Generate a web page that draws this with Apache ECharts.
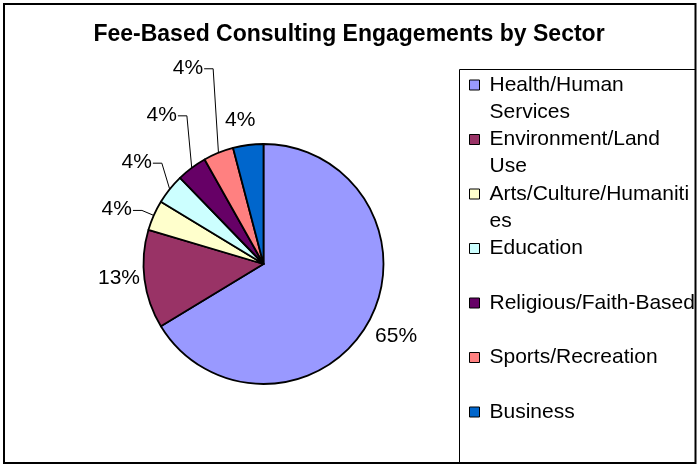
<!DOCTYPE html>
<html>
<head>
<meta charset="utf-8">
<script src="https://cdn.jsdelivr.net/npm/echarts@6/dist/echarts.min.js"></script>
<style>
  html, body { margin: 0; padding: 0; background: #fff; }
  #chart { width: 698px; height: 466px; }
</style>
</head>
<body>
<div id="chart"></div>
<script>
// --- data ---
const chartTitle = 'Fee-Based Consulting Engagements by Sector';
const sectors = [
  'Health/Human Services',
  'Environment/Land Use',
  'Arts/Culture/Humanities',
  'Education',
  'Religious/Faith-Based',
  'Sports/Recreation',
  'Business'
];
const shares = [65, 13, 4, 4, 4, 4, 4];

// --- styling ---
const sliceColors = ['#9999FF', '#993366', '#FFFFCC', '#CCFFFF', '#660066', '#FF8080', '#0066CC'];
// offset of each label centre from the outer mid-point of its slice
const labelOffsets = [[28, 13], [-25.5, -1.5], [-37, -6], [-33, -27], [-30, -53], [-30.5, -85], [-8, -25]];
const withLeader = [false, false, true, true, true, true, false];

const FONT = 'Liberation Sans, Arial, sans-serif';
const TEXT_SIZE = 21;
const LINE_H = 27;
const LEGEND_WRAP = 207;
const LEGEND_FIRST_ROW = 85;   // centre of the first legend marker
const LEGEND_STEP = 54.5;      // distance between legend entries

// wrap legend names on word boundaries; words that are too long are split by characters
const measureCtx = document.createElement('canvas').getContext('2d');
measureCtx.font = TEXT_SIZE + 'px ' + FONT;
function wrapName(name) {
  const fits = s => measureCtx.measureText(s).width <= LEGEND_WRAP;
  const lines = [];
  let line = '';
  name.split(' ').forEach(word => {
    const trial = line ? line + ' ' + word : word;
    if (fits(trial)) { line = trial; return; }
    if (line) { lines.push(line); line = ''; }
    let rest = word;
    while (!fits(rest)) {
      let n = rest.length - 1;
      while (n > 1 && !fits(rest.slice(0, n))) n--;
      lines.push(rest.slice(0, n));
      rest = rest.slice(n);
    }
    line = rest;
  });
  if (line) lines.push(line);
  return lines;
}

// each entry gets its own legend so the marker sits beside the first text line;
// blank lines above the text keep that first line centred on the marker
const legends = sectors.map((name, k) => {
  const n = wrapName(name).length;
  const total = 2 * n - 1;
  return {
    orient: 'vertical',
    left: 469,
    top: LEGEND_FIRST_ROW + k * LEGEND_STEP - total * LINE_H / 2,
    padding: 0,
    itemWidth: 10,
    itemHeight: 10,
    icon: 'rect',
    selectedMode: false,
    itemStyle: { borderColor: '#000', borderWidth: 1 },
    formatter: nm => '\n'.repeat(n - 1) + wrapName(nm).join('\n'),
    textStyle: {
      fontSize: TEXT_SIZE, fontFamily: FONT, color: '#000',
      lineHeight: LINE_H, padding: [0, 0, 0, 5]
    },
    data: [name]
  };
});

const chart = echarts.init(document.getElementById('chart'), null, { renderer: 'canvas' });

chart.setOption({
  backgroundColor: '#fff',
  animation: false,
  title: {
    text: chartTitle,
    left: 'center',
    top: 23.5,
    padding: 0,
    textStyle: { fontSize: 23, fontWeight: 'bold', fontFamily: FONT, color: '#000' }
  },
  legend: legends,
  graphic: [
    {
      // legend frame, running into the chart frame on the right and bottom
      type: 'rect',
      silent: true,
      shape: { x: 459.5, y: 69.5, width: 236, height: 393.5 },
      style: { fill: 'transparent', stroke: '#000', lineWidth: 1 }
    },
    {
      // chart frame
      type: 'rect',
      silent: true,
      z: 100,
      shape: { x: 4, y: 4, width: 691.5, height: 459 },
      style: { fill: 'transparent', stroke: '#000', lineWidth: 2 }
    }
  ],
  series: [{
    type: 'pie',
    center: [263.5, 264],
    radius: 120,
    startAngle: 90,
    clockwise: true,
    avoidLabelOverlap: false,
    silent: true,
    emphasis: { disabled: true },
    itemStyle: { borderColor: '#000', borderWidth: 1.8 },
    label: {
      show: true,
      position: 'outside',
      formatter: '{c}%',
      fontSize: TEXT_SIZE,
      fontFamily: FONT,
      color: '#000'
    },
    labelLine: { show: true, length: 10, length2: 10, lineStyle: { color: '#000', width: 1 } },
    labelLayout: function (params) {
      const i = params.dataIndex;
      const anchor = params.labelLinePoints[0];
      const cx = anchor[0] + labelOffsets[i][0];
      const cy = anchor[1] + labelOffsets[i][1];
      const right = cx + params.labelRect.width / 2;
      return {
        x: cx,
        y: cy,
        align: 'center',
        verticalAlign: 'middle',
        labelLinePoints: withLeader[i]
          ? [anchor, [right + 10, cy + 1], [right + 1, cy + 1]]
          : [anchor, anchor, anchor]
      };
    },
    data: sectors.map((name, i) => ({
      name: name,
      value: shares[i],
      itemStyle: { color: sliceColors[i] },
      labelLine: { lineStyle: { opacity: withLeader[i] ? 1 : 0 } }
    }))
  }]
});
</script>
</body>
</html>
